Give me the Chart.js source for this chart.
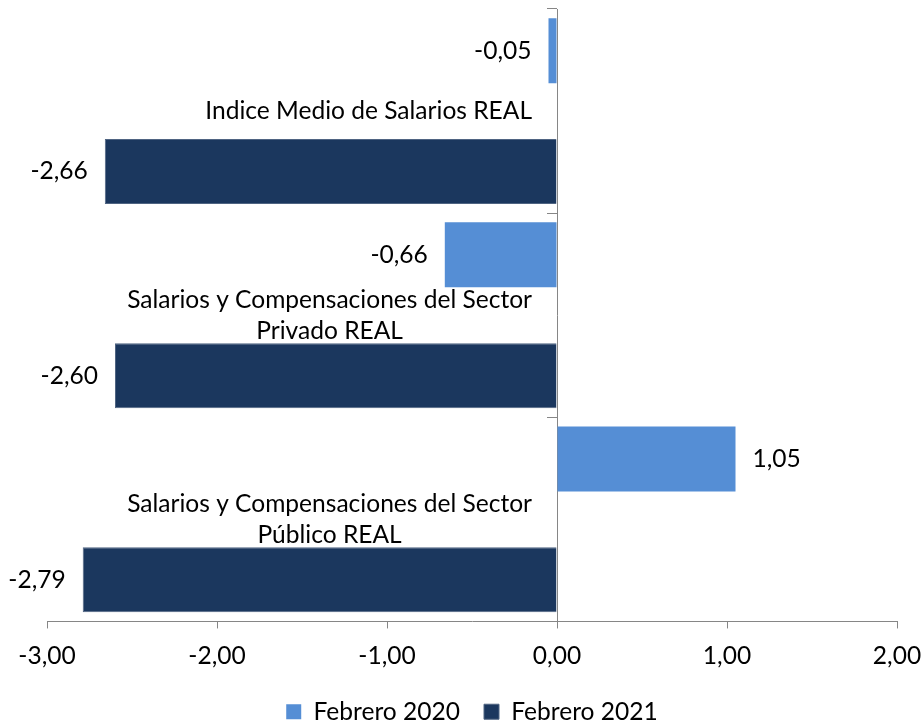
<!DOCTYPE html>
<html>
<head>
<meta charset="utf-8">
<script src="https://cdn.jsdelivr.net/npm/chart.js@4.4.1/dist/chart.umd.min.js"></script>
<style>
  html, body { margin: 0; padding: 0; background: #ffffff; }
  #wrap { width: 923px; height: 724px; position: relative; }
</style>
</head>
<body>
<div id="wrap"><canvas id="c" width="923" height="724"></canvas></div>
<script>
// ---- data ----
const categories = [
  ['Indice Medio de Salarios REAL'],
  ['Salarios y Compensaciones del Sector', 'Privado REAL'],
  ['Salarios y Compensaciones del Sector', 'Público REAL']
];
const seriesNames = ['Febrero 2020', 'Febrero 2021'];
const feb2020 = [-0.05, -0.66, 1.05];
const feb2021 = [-2.66, -2.60, -2.79];
const xTicks = [-3, -2, -1, 0, 1, 2];

// ---- style ----
const FAMILY = 'Lato, "Open Sans", sans-serif';
const colors = ['#558ED5', '#1B375E'];
const axisColor = '#868686';
function fitSize(text, target) {
  const ctx = document.createElement('canvas').getContext('2d');
  ctx.font = '100px ' + FAMILY;
  return 100 * target / ctx.measureText(text).width;
}
const FS = fitSize('Salarios y Compensaciones del Sector', 405);
const fmt = v => v.toFixed(2).replace('.', ',');

const valueLabels = {
  id: 'valueLabels',
  afterDatasetsDraw(chart) {
    const ctx = chart.ctx;
    ctx.save();
    ctx.font = FS + 'px ' + FAMILY;
    ctx.fillStyle = '#000';
    ctx.textBaseline = 'middle';
    chart.data.datasets.forEach((ds, di) => {
      const meta = chart.getDatasetMeta(di);
      meta.data.forEach((bar, i) => {
        const v = ds.data[i];
        if (v < 0) { ctx.textAlign = 'right'; ctx.fillText(fmt(v), bar.x - 17, bar.y); }
        else { ctx.textAlign = 'left'; ctx.fillText(fmt(v), bar.x + 17, bar.y); }
      });
    });
    ctx.restore();
  }
};

const categoryLabels = {
  id: 'categoryLabels',
  afterDatasetsDraw(chart) {
    const ctx = chart.ctx;
    const xs = chart.scales.x, ys = chart.scales.y;
    ctx.save();
    ctx.font = FS + 'px ' + FAMILY;
    ctx.fillStyle = '#000';
    ctx.textBaseline = 'middle';
    ctx.textAlign = 'center';
    const right = xs.getPixelForValue(0) - 25;
    const lh = 31;
    chart.data.labels.forEach((lines, i) => {
      const cy = ys.getPixelForValue(i);
      const w = Math.max(...lines.map(l => ctx.measureText(l).width));
      const cx = right - w / 2;
      const y0 = cy - (lines.length - 1) * lh / 2;
      lines.forEach((l, k) => ctx.fillText(l, cx, y0 + k * lh));
    });
    ctx.restore();
  }
};

new Chart(document.getElementById('c'), {
  type: 'bar',
  data: {
    labels: categories,
    datasets: [
      { label: seriesNames[0], data: feb2020, backgroundColor: colors[0] },
      { label: seriesNames[1], data: feb2021, backgroundColor: colors[1], borderColor: '#4F6482', borderWidth: 1 }
    ]
  },
  options: {
    indexAxis: 'y',
    responsive: false,
    animation: false,
    categoryPercentage: 1.184,
    barPercentage: 0.538,
    layout: { padding: { left: 47, right: 26, top: 9, bottom: -10 } },
    scales: {
      x: {
        type: 'linear',
        min: -3, max: 2,
        afterBuildTicks: s => { s.ticks = xTicks.map(v => ({ value: v })); },
        afterFit: s => { s.paddingLeft = 0; s.paddingRight = 0; s.height = 54; },
        ticks: {
          callback: v => fmt(v),
          color: '#000',
          font: { family: FAMILY, size: FS },
          padding: 13,
          maxRotation: 0
        },
        grid: { drawOnChartArea: false, drawTicks: true, tickLength: 7, color: axisColor },
        border: { color: axisColor, width: 1 }
      },
      y: {
        type: 'category',
        position: { x: 0 },
        offset: true,
        ticks: { display: false },
        grid: { drawOnChartArea: false, drawTicks: true, tickLength: 10, offset: true, color: axisColor },
        border: { color: axisColor, width: 1 }
      }
    },
    plugins: {
      legend: {
        position: 'bottom',
        labels: {
          boxWidth: 15, boxHeight: 15,
          color: '#000',
          font: { family: FAMILY, size: FS },
          padding: 24
        }
      },
      tooltip: { enabled: false }
    }
  },
  plugins: [valueLabels, categoryLabels]
});
</script>
</body>
</html>
